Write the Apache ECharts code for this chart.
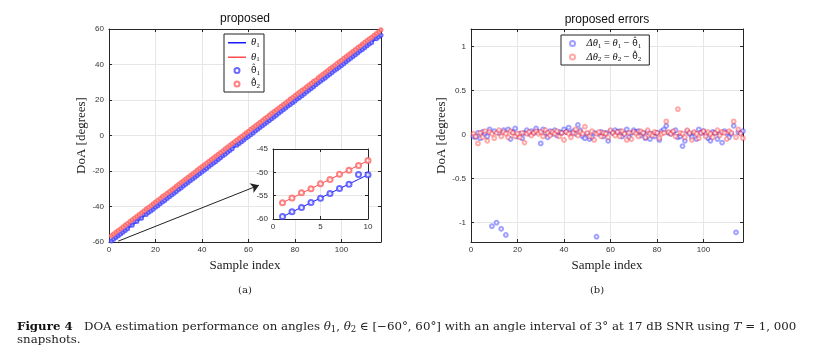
<!DOCTYPE html>
<html><head><meta charset="utf-8">
<script src="https://cdn.jsdelivr.net/npm/echarts@6/dist/echarts.min.js"></script>
<style>html,body{margin:0;padding:0;background:#fff}#c{width:817px;height:356px}</style>
</head><body><div id="c"></div>
<script>
// ---- data ----
const sampleIndex = [1,2,3,4,5,6,7,8,9,10,11,12,13,14,15,16,17,18,19,20,21,22,23,24,25,26,27,28,29,30,31,32,33,34,35,36,37,38,39,40,41,42,43,44,45,46,47,48,49,50,51,52,53,54,55,56,57,58,59,60,61,62,63,64,65,66,67,68,69,70,71,72,73,74,75,76,77,78,79,80,81,82,83,84,85,86,87,88,89,90,91,92,93,94,95,96,97,98,99,100,101,102,103,104,105,106,107,108,109,110,111,112,113,114,115,116,117];
const theta1 = [-59.5,-58.5,-57.5,-56.5,-55.5,-54.5,-53.5,-52.5,-51.5,-50.5,-49.5,-48.5,-47.5,-46.5,-45.5,-44.5,-43.5,-42.5,-41.5,-40.5,-39.5,-38.5,-37.5,-36.5,-35.5,-34.5,-33.5,-32.5,-31.5,-30.5,-29.5,-28.5,-27.5,-26.5,-25.5,-24.5,-23.5,-22.5,-21.5,-20.5,-19.5,-18.5,-17.5,-16.5,-15.5,-14.5,-13.5,-12.5,-11.5,-10.5,-9.5,-8.5,-7.5,-6.5,-5.5,-4.5,-3.5,-2.5,-1.5,-0.5,0.5,1.5,2.5,3.5,4.5,5.5,6.5,7.5,8.5,9.5,10.5,11.5,12.5,13.5,14.5,15.5,16.5,17.5,18.5,19.5,20.5,21.5,22.5,23.5,24.5,25.5,26.5,27.5,28.5,29.5,30.5,31.5,32.5,33.5,34.5,35.5,36.5,37.5,38.5,39.5,40.5,41.5,42.5,43.5,44.5,45.5,46.5,47.5,48.5,49.5,50.5,51.5,52.5,53.5,54.5,55.5,56.5];
const theta2 = [-56.5,-55.5,-54.5,-53.5,-52.5,-51.5,-50.5,-49.5,-48.5,-47.5,-46.5,-45.5,-44.5,-43.5,-42.5,-41.5,-40.5,-39.5,-38.5,-37.5,-36.5,-35.5,-34.5,-33.5,-32.5,-31.5,-30.5,-29.5,-28.5,-27.5,-26.5,-25.5,-24.5,-23.5,-22.5,-21.5,-20.5,-19.5,-18.5,-17.5,-16.5,-15.5,-14.5,-13.5,-12.5,-11.5,-10.5,-9.5,-8.5,-7.5,-6.5,-5.5,-4.5,-3.5,-2.5,-1.5,-0.5,0.5,1.5,2.5,3.5,4.5,5.5,6.5,7.5,8.5,9.5,10.5,11.5,12.5,13.5,14.5,15.5,16.5,17.5,18.5,19.5,20.5,21.5,22.5,23.5,24.5,25.5,26.5,27.5,28.5,29.5,30.5,31.5,32.5,33.5,34.5,35.5,36.5,37.5,38.5,39.5,40.5,41.5,42.5,43.5,44.5,45.5,46.5,47.5,48.5,49.5,50.5,51.5,52.5,53.5,54.5,55.5,56.5,57.5,58.5,59.5];
// errors  Δθ = θ − θ̂
const err1 = [-0.02,-0.03,0.02,-0.04,0.03,0.01,-0.02,0.06,-1.04,0.04,-1.0,0.02,-1.07,0.05,-1.14,0.06,-0.05,0.03,0.07,-0.02,0.01,-0.04,0.02,0.05,0.01,0.04,0.02,0.07,0.03,-0.10,0.06,0.02,-0.03,0.04,0.01,0.05,-0.01,0.03,0.02,0.06,0.03,0.08,0.02,0.04,0.01,0.11,0.05,-0.02,-0.04,0.01,-0.05,-0.03,0.02,-1.16,0.01,0.03,-0.02,0.02,-0.07,0.04,0.02,0.05,0.03,0.04,-0.02,0.01,0.06,-0.03,0.02,0.05,0.03,0.04,-0.01,0.02,-0.04,0.03,-0.05,0.01,-0.02,0.02,-0.06,0.04,0.06,0.10,0.02,0.01,0.03,0.05,-0.03,-0.02,-0.13,-0.07,0.04,0.01,-0.03,0.02,-0.05,0.06,0.02,0.04,0.01,-0.04,-0.07,0.03,0.02,-0.05,0.01,-0.09,0.04,0.02,-0.03,0.01,0.10,-1.11,0.03,0.02,0.04];
const err2 = [0.01,-0.02,-0.10,0.02,-0.03,0.04,-0.07,0.03,0.01,-0.04,0.02,0.05,-0.02,0.03,0.01,-0.03,0.04,0.02,-0.02,0.01,-0.03,0.02,-0.09,0.01,0.03,-0.01,0.02,0.04,0.01,0.03,-0.02,0.05,0.02,-0.01,0.03,0.01,0.04,-0.02,0.02,-0.06,0.03,0.01,-0.03,0.02,0.06,-0.01,0.03,0.01,0.09,0.02,-0.02,0.04,-0.06,0.01,0.03,-0.02,0.02,0.01,-0.03,0.05,0.02,-0.01,0.03,-0.02,0.04,0.01,-0.06,0.02,-0.05,0.03,0.01,-0.02,0.04,0.02,-0.03,0.05,0.01,-0.01,0.03,0.02,-0.04,0.01,0.02,0.15,0.03,0.01,0.04,-0.02,0.29,0.02,0.01,-0.03,0.05,0.02,-0.06,0.03,0.01,-0.04,0.02,0.04,-0.02,0.03,0.01,-0.03,0.02,0.05,-0.01,0.03,0.02,-0.05,0.04,0.02,0.15,-0.03,0.06,0.01,-0.04];
const errYTicks = [-1,-0.5,0,0.5,1];
const insetCount = 10;

// ---- derived ----
const est1 = theta1.map((v,i)=>v-err1[i]);
const est2 = theta2.map((v,i)=>v-err2[i]);
const pairs = (xs, ys) => ys.map((y,i)=>[xs[i], y]);

const AXC = '#262626', GRIDC = '#e6e6e6';
const SANS = 'Liberation Sans', SERIF = 'Liberation Serif', DSERIF = 'DejaVu Serif';
function xAx(g, pos, min, max, interval, labels, split){
  return {gridIndex:g, type:'value', position:pos, min, max, interval,
    axisLine:{show:true, onZero:false, lineStyle:{color:AXC, width:1}},
    axisTick:{show:true, inside:true, length:3, lineStyle:{color:AXC}},
    axisLabel:{show:labels, color:'#333', fontFamily:SANS, fontSize:8, margin:4, showMaxLabel:false},
    splitLine:{show:split, lineStyle:{color:GRIDC, width:1}}};
}
function yAx(g, pos, min, max, interval, labels, split){
  return {gridIndex:g, type:'value', position:pos, min, max, interval,
    axisLine:{show:true, onZero:false, lineStyle:{color:AXC, width:1}},
    axisTick:{show:true, inside:true, length:3, lineStyle:{color:AXC}},
    axisLabel:{show:labels, color:'#333', fontFamily:SANS, fontSize:8, margin:5, showMaxLabel:true, showMinLabel:true},
    splitLine:{show:split, lineStyle:{color:GRIDC, width:1}}};
}
const xName = {name:'Sample index', nameLocation:'middle', nameGap:16, nameTextStyle:{fontFamily:SERIF, fontSize:13, color:'#222'}};
const yName = {name:'DoA [degrees]', nameLocation:'middle', nameGap:16, nameRotate:90, nameTextStyle:{fontFamily:SERIF, fontSize:13, color:'#222'}};
const xAxes = [
  Object.assign(xAx(0,'bottom',0,117,20,true,true), xName),
  xAx(0,'top',0,117,20,false,false),
  Object.assign(xAx(1,'bottom',0,117,20,true,true), xName),
  xAx(1,'top',0,117,20,false,false),
  Object.assign(xAx(2,'bottom',0,10,5,true,true), {z:5}),
  Object.assign(xAx(2,'top',0,10,5,false,false), {z:5})
];
xAxes[4].axisLabel.showMaxLabel = true;
const yErr = (pos, labels, split) => {
  const a = yAx(1,pos,-1.22,1.2,null,labels,split);
  delete a.interval;
  a.axisLabel.customValues = errYTicks;
  a.axisTick.customValues = errYTicks;
  a.splitLine.customValues = errYTicks;
  return a;
};
const yAxes = [
  Object.assign(yAx(0,'left',-60,60,20,true,true), yName),
  yAx(0,'right',-60,60,20,false,false),
  Object.assign(yErr('left',true,true), yName),
  yErr('right',false,false),
  Object.assign(yAx(2,'left',-60,-45,5,true,true), {z:5}),
  Object.assign(yAx(2,'right',-60,-45,5,false,false), {z:5})
];

const BLUE='#1a1aff', RED='#ff4d4d', BLUE_C='#4545ff', RED_C='#ff6262';
const insetX = sampleIndex.slice(0, insetCount);

const sub = {fontFamily:SERIF, fontSize:7, color:'#111', padding:[5,0,0,0]};
const mth = {fontFamily:SERIF, fontStyle:'italic', fontSize:10.5, color:'#111'};
const hat = {fontFamily:'DejaVu Sans', fontSize:9, color:'#111'};
const rm = {fontFamily:SERIF, fontSize:10.5, color:'#111'};
const legendLabels = {
  th1:'{m|θ}{s|1}', th1r:'{m|θ}{s|1}', est1:'{h|θ\u0302}{s|1}', est2:'{h|θ\u0302}{s|2}',
  d1:'{m|Δθ}{s|1}{r| = }{m|θ}{s|1}{r| − }{h|θ\u0302}{s|1}',
  d2:'{m|Δθ}{s|2}{r| = }{m|θ}{s|2}{r| − }{h|θ\u0302}{s|2}'
};
const lineIcon = 'path://M0,0h0.05v0.05h-0.05zM0,2h18v1.5h-18zM17.95,4.95h0.05v0.05h-0.05z';

const option = {
  animation:false,
  backgroundColor:'#fff',
  grid:[
    {left:109, top:29, width:272, height:213, show:false},
    {left:471, top:29, width:272, height:213, show:false},
    {left:273, top:149, width:95, height:70, show:true, backgroundColor:'#fff', borderWidth:0, z:4}
  ],
  xAxis:xAxes, yAxis:yAxes,
  legend:[
    {data:[{name:'th1', icon:lineIcon},{name:'th1r', icon:lineIcon},'est1','est2'], orient:'vertical', left:224, top:34,
     itemWidth:18, itemHeight:5, itemGap:3, padding:[3,4,2,4],
     borderColor:'#222', borderWidth:1, backgroundColor:'#fff',
     formatter:n=>legendLabels[n], textStyle:{rich:{m:mth, s:sub, r:rm, h:hat}}},
    {data:['d1','d2'], orient:'vertical', left:561, top:35,
     itemWidth:18, itemHeight:5, itemGap:2, padding:[3,8,2,8],
     borderColor:'#222', borderWidth:1, backgroundColor:'#fff',
     formatter:n=>legendLabels[n], textStyle:{rich:{m:mth, s:sub, r:rm, h:hat}}}
  ],
  series:[
    {name:'th1', type:'line', xAxisIndex:0, yAxisIndex:0, data:pairs(sampleIndex,theta1), symbol:'none', lineStyle:{color:BLUE, width:1.5}, itemStyle:{color:BLUE}, z:2},
    {name:'th1r', type:'line', xAxisIndex:0, yAxisIndex:0, data:pairs(sampleIndex,theta2), symbol:'none', lineStyle:{color:RED, width:1.5}, itemStyle:{color:RED}, z:2},
    {name:'est1', type:'scatter', xAxisIndex:0, yAxisIndex:0, data:pairs(sampleIndex,est1), symbol:'emptyCircle', symbolSize:3, itemStyle:{color:BLUE_C, borderColor:BLUE_C, borderWidth:0.5}, z:3},
    {name:'est2', type:'scatter', xAxisIndex:0, yAxisIndex:0, data:pairs(sampleIndex,est2), symbol:'emptyCircle', symbolSize:3, itemStyle:{color:RED_C, borderColor:RED_C, borderWidth:0.5}, z:3},
    {name:'arrow', type:'lines', coordinateSystem:'cartesian2d', xAxisIndex:0, yAxisIndex:0, symbol:['none','arrow'], symbolSize:8,
     data:[{coords:[[4,-59.5],[64.5,-28]]}], lineStyle:{color:'#222', width:1, opacity:1}, z:3},
    {name:'in1', type:'line', xAxisIndex:4, yAxisIndex:4, data:pairs(insetX,theta1.slice(0,insetCount)), symbol:'none', lineStyle:{color:BLUE, width:1}, z:6},
    {name:'in2', type:'line', xAxisIndex:4, yAxisIndex:4, data:pairs(insetX,theta2.slice(0,insetCount)), symbol:'none', lineStyle:{color:RED, width:1}, z:6},
    {name:'ine1', type:'scatter', xAxisIndex:4, yAxisIndex:4, data:pairs(insetX,est1.slice(0,insetCount)), symbol:'emptyCircle', symbolSize:5, itemStyle:{color:BLUE_C, borderColor:BLUE_C, borderWidth:0.6}, z:7},
    {name:'ine2', type:'scatter', xAxisIndex:4, yAxisIndex:4, data:pairs(insetX,est2.slice(0,insetCount)), symbol:'emptyCircle', symbolSize:5, itemStyle:{color:RED_C, borderColor:RED_C, borderWidth:0.6}, z:7},
    {name:'d1', type:'scatter', xAxisIndex:2, yAxisIndex:2, data:pairs(sampleIndex,err1), symbol:'emptyCircle', symbolSize:3.8, itemStyle:{color:'rgba(40,40,255,0.55)', borderColor:'rgba(40,40,255,0.55)', borderWidth:0.8}, z:3},
    {name:'d2', type:'scatter', xAxisIndex:2, yAxisIndex:2, data:pairs(sampleIndex,err2), symbol:'emptyCircle', symbolSize:3.8, itemStyle:{color:'rgba(255,40,40,0.5)', borderColor:'rgba(255,40,40,0.5)', borderWidth:0.8}, z:3}
  ],
  graphic:[
    {type:'text', x:245, y:19, style:{text:'proposed', fontFamily:SANS, fontSize:12, fill:'#111', align:'center', verticalAlign:'middle'}},
    {type:'text', x:607, y:20, style:{text:'proposed errors', fontFamily:SANS, fontSize:12, fill:'#111', align:'center', verticalAlign:'middle'}},
    {type:'text', x:245, y:290, style:{text:'(a)', fontFamily:DSERIF, fontSize:10, fill:'#222', align:'center', verticalAlign:'middle'}},
    {type:'text', x:597, y:290, style:{text:'(b)', fontFamily:DSERIF, fontSize:10, fill:'#222', align:'center', verticalAlign:'middle'}},
    {type:'text', x:17, y:327, style:{
      text:'{b|Figure 4}   DOA estimation performance on angles {i|θ}{s|1}, {i|θ}{s|2} ∈ [−60°, 60°] with an angle interval of 3° at 17 dB SNR using {i|T} = 1, 000',
      fontFamily:DSERIF, fontSize:11.8, fill:'#222', verticalAlign:'middle',
      rich:{b:{fontFamily:DSERIF, fontWeight:'bold', fontSize:11.8, fill:'#111'}, i:{fontFamily:DSERIF, fontStyle:'italic', fontSize:11.8, fill:'#222'}, s:{fontFamily:DSERIF, fontSize:8.5, fill:'#222', padding:[5,0,0,0]}}}},
    {type:'text', x:17, y:340, style:{text:'snapshots.', fontFamily:DSERIF, fontSize:11.8, fill:'#222', verticalAlign:'middle'}}
  ]
};
const chart = echarts.init(document.getElementById('c'), null, {renderer:'canvas'});
chart.setOption(option);
</script>
</body></html>
